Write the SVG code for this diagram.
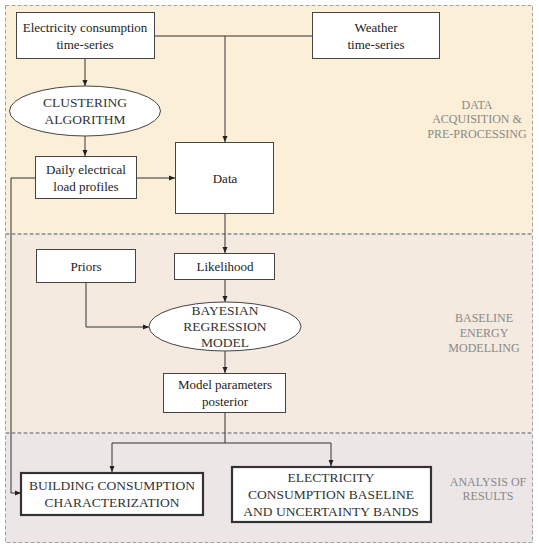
<svg xmlns="http://www.w3.org/2000/svg" width="539" height="550" viewBox="0 0 539 550">
<defs>
<marker id="ah" viewBox="0 0 6 6" refX="6" refY="3" markerWidth="6" markerHeight="6" orient="auto" markerUnits="userSpaceOnUse">
<path d="M0,0.5 L6,3 L0,5.5 Z" fill="#222"/>
</marker>
<style>
.panel{stroke:#a3a3a3;stroke-width:1;stroke-dasharray:4,2}
.box{fill:#fff;stroke:#444;stroke-width:1}
.thick{fill:#fff;stroke:#333;stroke-width:2.2}
text{font-family:'Liberation Serif','DejaVu Serif',serif}
.t{font-size:13px;fill:#222;text-anchor:middle}
.c{font-size:13.5px;fill:#333;text-anchor:middle}
.lab{font-size:12px;fill:#888;text-anchor:middle}
.ln{fill:none;stroke:#333;stroke-width:1}
</style>
</defs>
<rect width="539" height="550" fill="#fff"/>
<g id="panels">
<rect class="panel" x="5.5" y="5.5" width="527" height="228" fill="#fcefd7"/>
<rect class="panel" x="5.5" y="234.5" width="527" height="198" fill="#f4eadf"/>
<rect class="panel" x="5.5" y="433.5" width="527" height="109" fill="#ede6e7"/>
<text class="lab" x="477" y="109">DATA</text>
<text class="lab" x="477" y="123">ACQUISITION &amp;</text>
<text class="lab" x="477" y="138">PRE-PROCESSING</text>
<text class="lab" x="484" y="322">BASELINE</text>
<text class="lab" x="484" y="337">ENERGY</text>
<text class="lab" x="484" y="352">MODELLING</text>
<text class="lab" x="488" y="486">ANALYSIS OF</text>
<text class="lab" x="488" y="500">RESULTS</text>
</g>
<g id="connectors">
<path class="ln" d="M154,36 H312"/>
<path class="ln" d="M225,36 V142" marker-end="url(#ah)"/>
<path class="ln" d="M85,59 V86" marker-end="url(#ah)"/>
<path class="ln" d="M85,136 V156" marker-end="url(#ah)"/>
<path class="ln" d="M137,178 H175" marker-end="url(#ah)"/>
<path class="ln" d="M35,178 H11 V493 H21" marker-end="url(#ah)"/>
<path class="ln" d="M225,214 V253" marker-end="url(#ah)"/>
<path class="ln" d="M86,283 V327 H149" marker-end="url(#ah)"/>
<path class="ln" d="M225,280 V302" marker-end="url(#ah)"/>
<path class="ln" d="M225,351 V373" marker-end="url(#ah)"/>
<path class="ln" d="M225,413 V443"/>
<path class="ln" d="M112,443 H331"/>
<path class="ln" d="M112,443 V472" marker-end="url(#ah)"/>
<path class="ln" d="M331,443 V466" marker-end="url(#ah)"/>
</g>
<g id="elec">
<rect class="box" x="16.5" y="12.5" width="138" height="46"/>
<text class="t" x="85" y="32">Electricity consumption</text>
<text class="t" x="85" y="49">time-series</text>
</g>
<g id="weather">
<rect class="box" x="312.5" y="12.5" width="127" height="46"/>
<text class="t" x="376" y="32">Weather</text>
<text class="t" x="376" y="49">time-series</text>
</g>
<g id="clustering">
<ellipse class="box" cx="85" cy="111" rx="75.5" ry="25"/>
<text class="c" x="85" y="107">CLUSTERING</text>
<text class="c" x="85" y="124">ALGORITHM</text>
</g>
<g id="daily">
<rect class="box" x="35.5" y="156.5" width="101" height="42"/>
<text class="t" x="86" y="174">Daily electrical</text>
<text class="t" x="86" y="191">load profiles</text>
</g>
<g id="data">
<rect class="box" x="175.5" y="142.5" width="98" height="71"/>
<text class="t" x="225" y="183">Data</text>
</g>
<g id="priors">
<rect class="box" x="36.5" y="249.5" width="99" height="33"/>
<text class="t" x="86" y="271">Priors</text>
</g>
<g id="likelihood">
<rect class="box" x="174.5" y="253.5" width="100" height="26"/>
<text class="t" x="225" y="271">Likelihood</text>
</g>
<g id="bayesian">
<ellipse class="box" cx="225" cy="326.5" rx="76" ry="24.5"/>
<text class="c" x="225" y="315">BAYESIAN</text>
<text class="c" x="225" y="331">REGRESSION</text>
<text class="c" x="225" y="347">MODEL</text>
</g>
<g id="posterior">
<rect class="box" x="163.5" y="373.5" width="122" height="39"/>
<text class="t" x="225" y="389">Model parameters</text>
<text class="t" x="225" y="406">posterior</text>
</g>
<g id="building">
<rect class="thick" x="21" y="473" width="182" height="42"/>
<text class="c" x="112" y="490">BUILDING CONSUMPTION</text>
<text class="c" x="112" y="507">CHARACTERIZATION</text>
</g>
<g id="baseline">
<rect class="thick" x="232" y="467" width="199" height="55"/>
<text class="c" x="331" y="482">ELECTRICITY</text>
<text class="c" x="331" y="499">CONSUMPTION BASELINE</text>
<text class="c" x="331" y="516">AND UNCERTAINTY BANDS</text>
</g>
</svg>
